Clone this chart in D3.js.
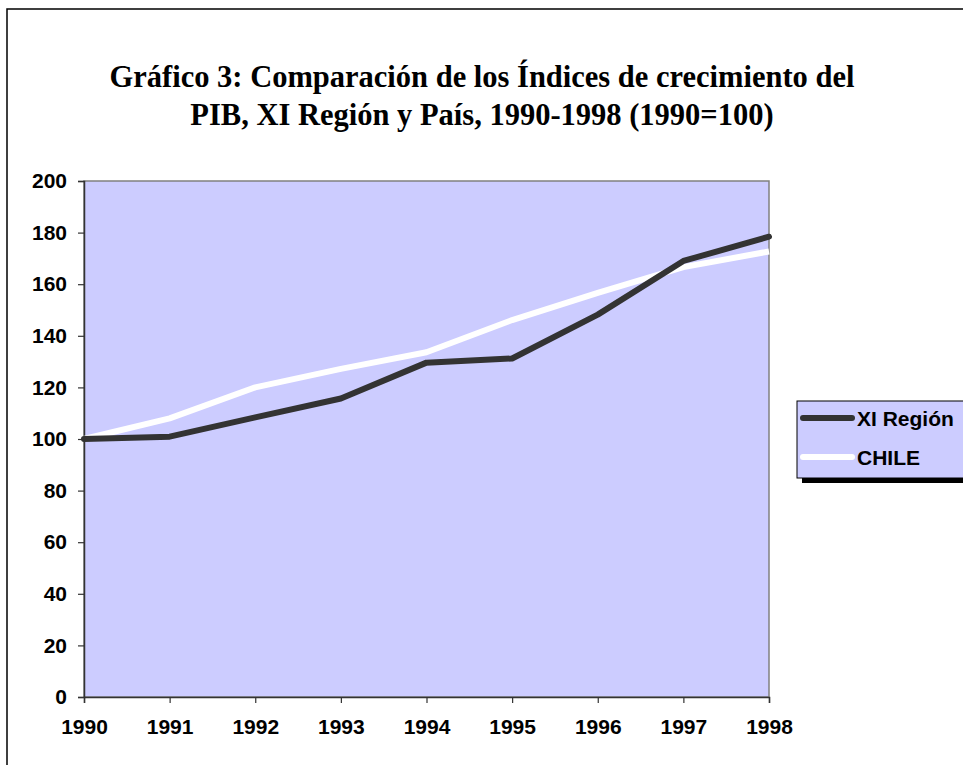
<!DOCTYPE html>
<html><head><meta charset="utf-8">
<script src="https://cdn.jsdelivr.net/npm/d3@7"></script>
<style>body{margin:0;background:#fff}svg{display:block}</style>
</head><body>
<svg id="c" width="963" height="765"></svg>
<script>
const years = [1990,1991,1992,1993,1994,1995,1996,1997,1998];
const xiRegion = [100,100.9,108.4,115.7,129.6,131.2,148.2,169.0,178.4];
const chile = [100,108.0,120.0,127.2,133.6,146.1,156.6,166.6,172.7];
const yTicks = [0,20,40,60,80,100,120,140,160,180,200];
const seriesNames = ["XI Región","CHILE"];
const titleLines = ["Gráfico 3: Comparación de los Índices de crecimiento del","PIB, XI Región y País, 1990-1998 (1990=100)"];

const svg = d3.select("#c");
const L=84,R=769,T=181,B=697;
const x = d3.scalePoint().domain(years).range([L,R]);
const y = d3.scaleLinear().domain([0,200]).range([B,T]);

svg.append("rect").attr("x",7).attr("y",9).attr("width",1100).attr("height",1100)
  .attr("fill","#fff").attr("stroke","#000").attr("stroke-width",1.5);

svg.selectAll("text.title").data(titleLines).join("text")
  .attr("x",482).attr("y",(d,i)=>87+i*38).attr("text-anchor","middle")
  .attr("font-family","Liberation Serif, Times New Roman, serif").attr("font-weight","bold")
  .attr("font-size",30.5).attr("fill","#000").text(d=>d);

svg.append("rect").attr("x",L).attr("y",T).attr("width",R-L).attr("height",B-T)
  .attr("fill","#CCCCFF").attr("stroke","#808080").attr("stroke-width",1.5);

const ya = svg.append("g").attr("transform",`translate(${L},0)`)
  .call(d3.axisLeft(y).tickValues(yTicks).tickSize(6).tickPadding(11).tickFormat(d3.format("d")));
const xa = svg.append("g").attr("transform",`translate(0,${B})`)
  .call(d3.axisBottom(x).tickSize(6).tickPadding(16).tickFormat(d3.format("d")));
[ya,xa].forEach(g=>{
  g.select(".domain").attr("stroke","#333").attr("stroke-width",1.5);
  g.selectAll(".tick line").attr("stroke","#333").attr("stroke-width",1.2);
  g.selectAll(".tick text").attr("font-family","Liberation Sans, Arial, sans-serif")
   .attr("font-weight","bold").attr("font-size",21).attr("fill","#000");
});

const line = d3.line().x((d,i)=>x(years[i])).y(d=>y(d));
svg.append("path").datum(chile).attr("d",line).attr("fill","none")
  .attr("stroke","#fff").attr("stroke-width",6).attr("stroke-linejoin","round");
svg.append("path").datum(xiRegion).attr("d",line).attr("fill","none")
  .attr("stroke","#333").attr("stroke-width",6).attr("stroke-linejoin","round").attr("stroke-linecap","round");

// legend
const lg = svg.append("g");
lg.append("rect").attr("x",802).attr("y",406).attr("width",200).attr("height",77).attr("fill","#000");
lg.append("rect").attr("x",797).attr("y",401).attr("width",200).attr("height",77)
  .attr("fill","#CCCCFF").attr("stroke","#000").attr("stroke-width",1);
const colors=["#333","#fff"];
seriesNames.forEach((n,i)=>{
  const yy = 418+i*39;
  lg.append("line").attr("x1",803).attr("x2",852).attr("y1",yy).attr("y2",yy)
    .attr("stroke",colors[i]).attr("stroke-width",6).attr("stroke-linecap","round");
  lg.append("text").attr("x",857).attr("y",yy+7.5).attr("font-family","Liberation Sans, Arial, sans-serif")
    .attr("font-weight","bold").attr("font-size",21).attr("fill","#000").text(n);
});
</script>
</body></html>
